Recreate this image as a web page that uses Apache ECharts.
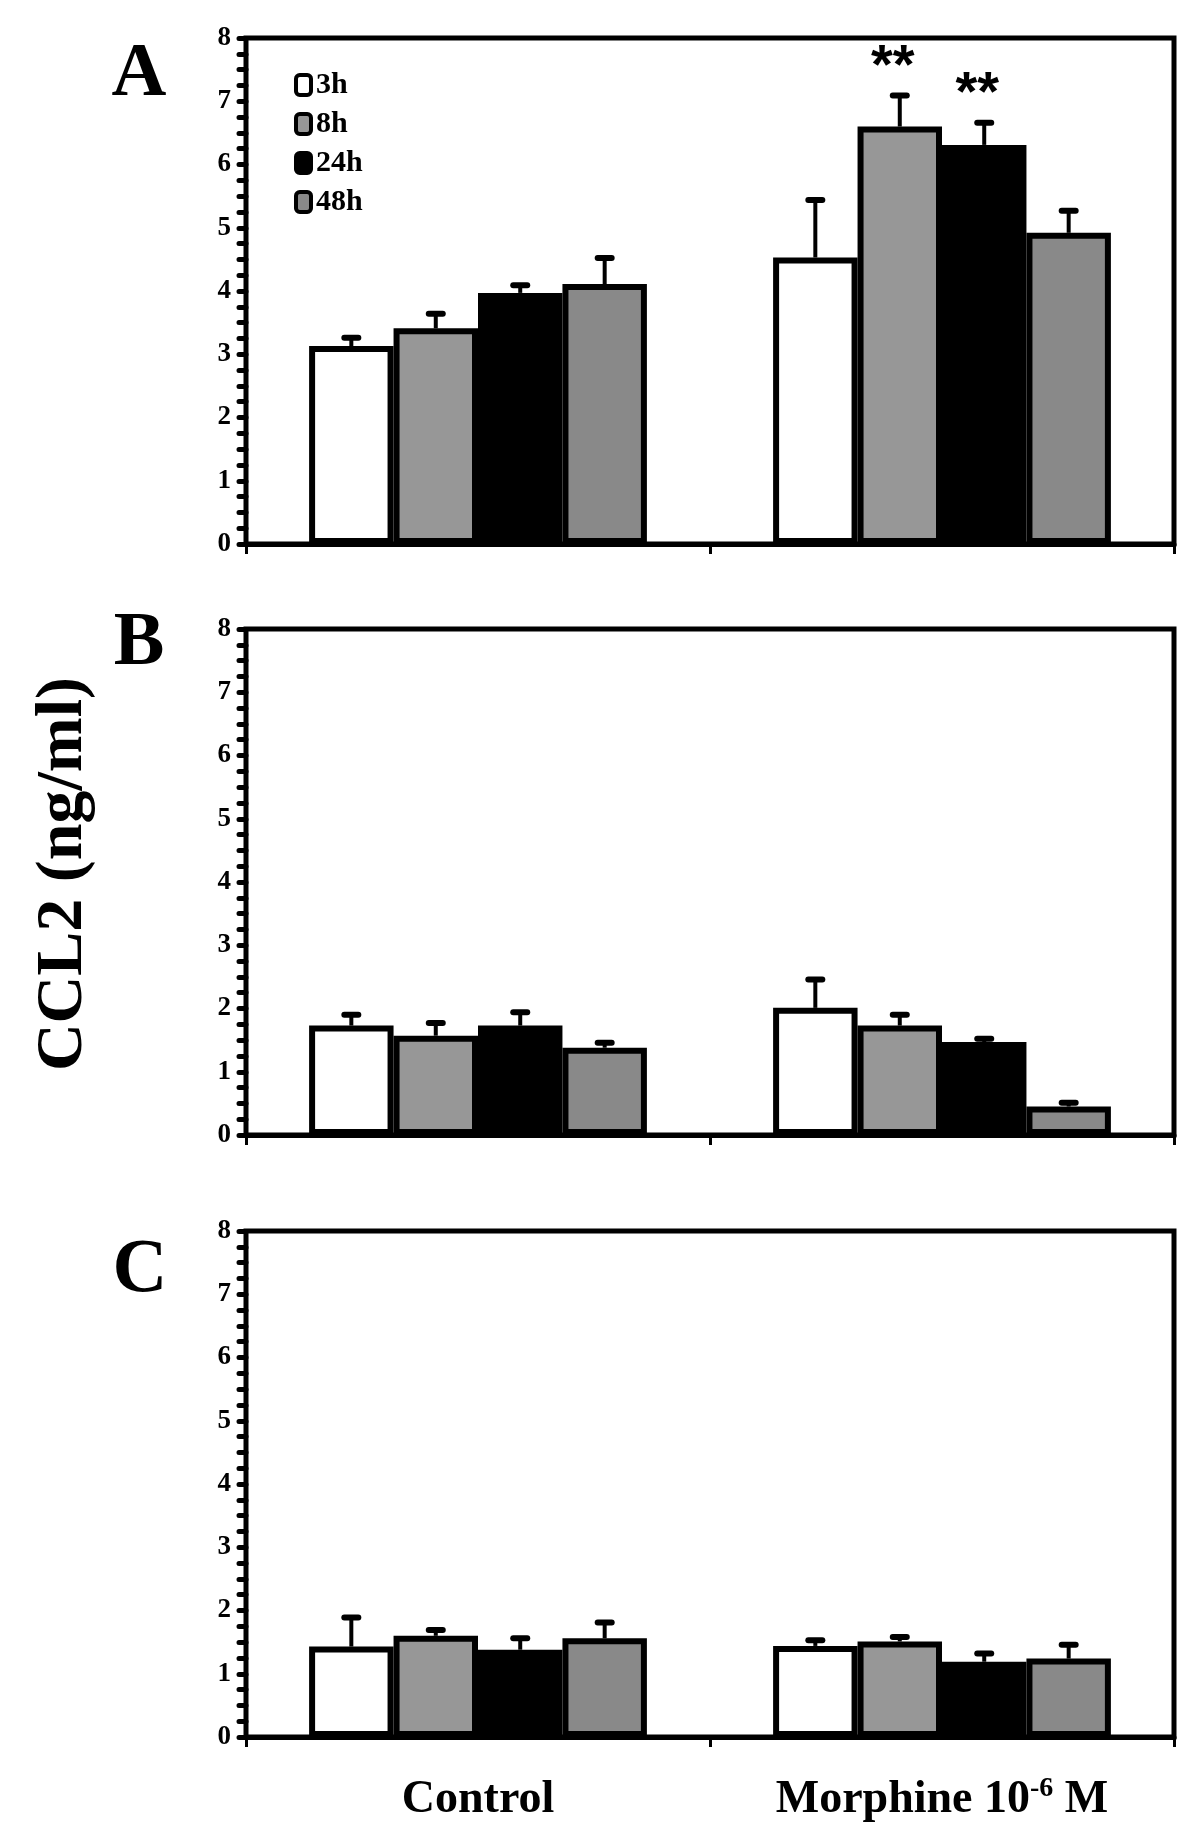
<!DOCTYPE html>
<html>
<head>
<meta charset="utf-8">
<script src="https://cdn.jsdelivr.net/npm/echarts@6/dist/echarts.min.js"></script>
<style>
html,body{margin:0;padding:0;background:#fff;}
#chart{width:1200px;height:1837px;}
</style>
</head>
<body>
<div id="chart"></div>
<script>
// ---- data ----
const categories = ['Control', 'Morphine 10-6 M'];
const timepoints = ['3h', '8h', '24h', '48h'];
const yTicks = [0, 1, 2, 3, 4, 5, 6, 7, 8];
const panelLetters = ['A', 'B', 'C'];
const yTitle = 'CCL2 (ng/ml)';

// Panel A: mean per timepoint [Control, Morphine]
const meanA_3h = [3.13, 4.53];
const meanA_8h = [3.41, 6.60];
const meanA_24h = [3.97, 6.31];
const meanA_48h = [4.11, 4.92];
const semA_3h = [0.13, 0.91];
const semA_8h = [0.23, 0.49];
const semA_24h = [0.12, 0.35];
const semA_48h = [0.41, 0.35];
const sigA_8h = ['', '**'];
const sigA_24h = ['', '**'];

// Panel B
const meanB_3h = [1.73, 2.01];
const meanB_8h = [1.57, 1.73];
const meanB_24h = [1.73, 1.47];
const meanB_48h = [1.38, 0.45];
const semB_3h = [0.17, 0.45];
const semB_8h = [0.20, 0.17];
const semB_24h = [0.21, 0.05];
const semB_48h = [0.08, 0.06];

// Panel C
const meanC_3h = [1.43, 1.44];
const meanC_8h = [1.60, 1.51];
const meanC_24h = [1.38, 1.19];
const meanC_48h = [1.56, 1.24];
const semC_3h = [0.46, 0.09];
const semC_8h = [0.09, 0.07];
const semC_24h = [0.18, 0.13];
const semC_48h = [0.25, 0.22];

const noSig = ['', ''];

// ---- build ----
const panels = [
  { means: [meanA_3h, meanA_8h, meanA_24h, meanA_48h], sems: [semA_3h, semA_8h, semA_24h, semA_48h], sigs: [noSig, sigA_8h, sigA_24h, noSig] },
  { means: [meanB_3h, meanB_8h, meanB_24h, meanB_48h], sems: [semB_3h, semB_8h, semB_24h, semB_48h], sigs: [noSig, noSig, noSig, noSig] },
  { means: [meanC_3h, meanC_8h, meanC_24h, meanC_48h], sems: [semC_3h, semC_8h, semC_24h, semC_48h], sigs: [noSig, noSig, noSig, noSig] }
];

const barColors = ['#ffffff', '#979797', '#000000', '#898989'];
const gridTops = [38, 629, 1231];
const gridH = 506;
const barFrac = 0.182;
const serif = 'Liberation Serif';

const grids = [], xAxes = [], yAxes = [], series = [];
panels.forEach((p, pi) => {
  grids.push({ left: 246, right: 26, top: gridTops[pi], height: gridH, show: true, borderColor: '#000', borderWidth: 5, backgroundColor: 'transparent', containLabel: false });
  xAxes.push({
    gridIndex: pi, type: 'category', data: categories,
    axisLine: { show: true, lineStyle: { color: '#000', width: 5 } },
    axisTick: { show: true, length: 10, lineStyle: { color: '#000', width: 3 } },
    axisLabel: {
      show: pi === 2, margin: 38, color: '#000',
      formatter: function (v, idx) {
        return idx === 1 ? '{a|Morphine 10}{s|-6}{a| M}' : '{a|' + v + '}';
      },
      rich: {
        a: { fontFamily: serif, fontWeight: 'bold', fontSize: 46, lineHeight: 50, color: '#000' },
        s: { fontFamily: serif, fontWeight: 'bold', fontSize: 28, lineHeight: 28, verticalAlign: 'top', color: '#000' }
      }
    },
    splitLine: { show: false }
  });
  yAxes.push({
    gridIndex: pi, type: 'value', min: yTicks[0], max: yTicks[yTicks.length - 1], interval: 1,
    axisLine: { show: true, lineStyle: { color: '#000', width: 4 } },
    axisTick: { show: true, length: 7, lineStyle: { color: '#000', width: 5, cap: 'round' } },
    minorTick: { show: true, splitNumber: 4, length: 7, lineStyle: { color: '#000', width: 5, cap: 'round' } },
    splitLine: { show: false },
    axisLabel: { fontFamily: serif, fontWeight: 'bold', fontSize: 27, color: '#000', margin: 15 }
  });
  p.means.forEach((m, ti) => {
    series.push({
      type: 'bar', name: timepoints[ti], xAxisIndex: pi, yAxisIndex: pi,
      data: m, barWidth: (barFrac * 100) + '%', barGap: '0%',
      itemStyle: { color: barColors[ti], borderColor: '#000', borderWidth: 6 },
      emphasis: { disabled: true }, z: 2
    });
  });
  const errData = [], errSig = [];
  p.means.forEach((m, ti) => {
    m.forEach((v, ci) => {
      errData.push([ci, ti, v, v + p.sems[ti][ci]]);
      errSig.push(p.sigs[ti][ci]);
    });
  });
  series.push({
    type: 'custom', xAxisIndex: pi, yAxisIndex: pi, z: 5, silent: true,
    encode: { x: 0, y: 3 },
    data: errData,
    renderItem: function (params, api) {
      const ci = api.value(0), ti = api.value(1);
      const band = api.size([1, 0])[0];
      const bw = band * barFrac;
      const cx = api.coord([ci, 0])[0] + (ti - 1.5) * bw;
      const yTop = api.coord([ci, api.value(2)])[1];
      const yErr = api.coord([ci, api.value(3)])[1];
      const children = [
        { type: 'line', shape: { x1: cx, y1: yTop, x2: cx, y2: yErr }, style: { stroke: '#000', lineWidth: 4 } },
        { type: 'line', shape: { x1: cx - 7, y1: yErr, x2: cx + 7, y2: yErr }, style: { stroke: '#000', lineWidth: 6, lineCap: 'round' } }
      ];
      const s = errSig[params.dataIndex];
      if (s) {
        children.push({ type: 'text', style: { text: s, x: cx - 7, y: yErr - 28, font: 'bold 56px "Liberation Sans"', fill: '#000', align: 'center', verticalAlign: 'middle', textAlign: 'center', textVerticalAlign: 'middle' } });
      }
      return { type: 'group', children: children };
    }
  });
});

const chart = echarts.init(document.getElementById('chart'), null, { renderer: 'canvas' });
chart.setOption({
  animation: false,
  backgroundColor: '#ffffff',
  grid: grids,
  xAxis: xAxes,
  yAxis: yAxes,
  legend: {
    data: timepoints, orient: 'vertical', left: 289, top: 65,
    itemWidth: 15, itemHeight: 20, itemGap: 9, icon: 'roundRect',
    itemStyle: { borderColor: '#000', borderWidth: 4 },
    textStyle: { fontFamily: serif, fontWeight: 'bold', fontSize: 30, color: '#000' },
    selectedMode: false
  },
  graphic: [
    { type: 'text', x: 139, y: 75, style: { text: panelLetters[0], font: 'bold 76px "Liberation Serif"', fill: '#000', textAlign: 'center', textVerticalAlign: 'middle', align: 'center', verticalAlign: 'middle' } },
    { type: 'text', x: 139, y: 644, style: { text: panelLetters[1], font: 'bold 76px "Liberation Serif"', fill: '#000', textAlign: 'center', textVerticalAlign: 'middle', align: 'center', verticalAlign: 'middle' } },
    { type: 'text', x: 140, y: 1271, style: { text: panelLetters[2], font: 'bold 76px "Liberation Serif"', fill: '#000', textAlign: 'center', textVerticalAlign: 'middle', align: 'center', verticalAlign: 'middle' } },
    { type: 'text', x: 64, y: 874, rotation: Math.PI / 2, style: { text: yTitle, font: 'bold 66px "Liberation Serif"', fill: '#000', textAlign: 'center', textVerticalAlign: 'middle', align: 'center', verticalAlign: 'middle' } }
  ],
  series: series
});
</script>
</body>
</html>
